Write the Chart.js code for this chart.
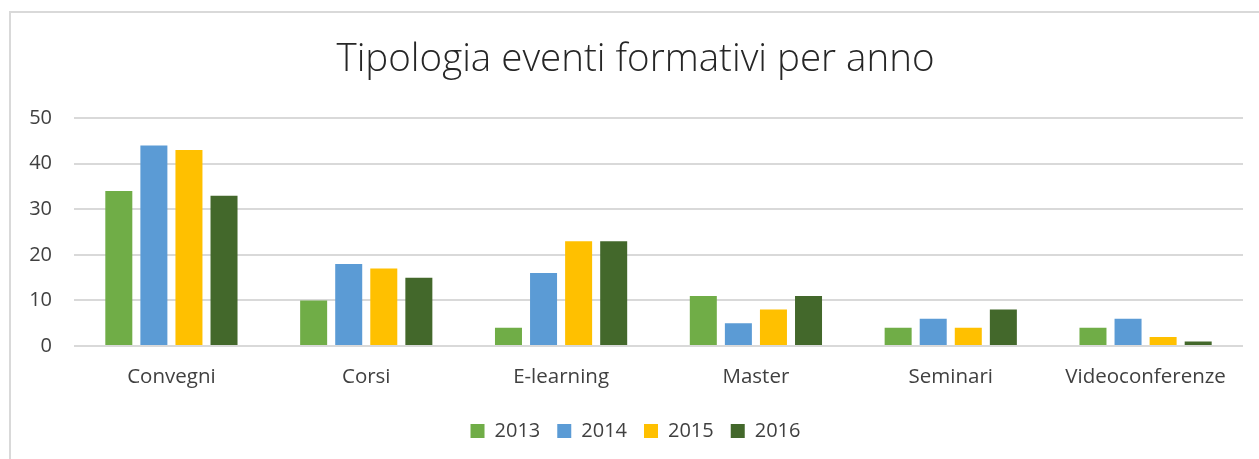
<!DOCTYPE html>
<html>
<head>
<meta charset="utf-8">
<script src="https://cdn.jsdelivr.net/npm/chart.js@4.4.1/dist/chart.umd.min.js"></script>
<style>
	body { margin: 0; background: #fff; }
	#wrap { position: relative; width: 1259px; height: 459px; }
	#frame { position: absolute; left: 9px; top: 11px; right: 0; bottom: 0; border-left: 2px solid #d9d9d9; border-top: 2px solid #d9d9d9; pointer-events: none; }
	canvas { position: absolute; left: 0; top: 0; }
</style>
</head>
<body>
<div id="wrap">
	<canvas id="chart" width="1259" height="459"></canvas>
	<div id="frame"></div>
</div>
<script>
const categories = ['Convegni', 'Corsi', 'E-learning', 'Master', 'Seminari', 'Videoconferenze'];
const years = ['2013', '2014', '2015', '2016'];
const values2013 = [34, 10, 4, 11, 4, 4];
const values2014 = [44, 18, 16, 5, 6, 6];
const values2015 = [43, 17, 23, 8, 4, 2];
const values2016 = [33, 15, 23, 11, 8, 1];
const yTicks = [0, 10, 20, 30, 40, 50];

const colors = ['#70AD47', '#5B9BD5', '#FFC000', '#43682B'];
const series = [values2013, values2014, values2015, values2016];

const fontFamily = '"Open Sans", sans-serif';

new Chart(document.getElementById('chart'), {
	type: 'bar',
	data: {
		labels: categories,
		datasets: years.map((year, i) => ({
			label: year,
			data: series[i],
			backgroundColor: colors[i],
			categoryPercentage: 0.72,
			barPercentage: 0.77
		}))
	},
	options: {
		responsive: false,
		animation: false,
		layout: { padding: { left: 28, right: 16, top: 0, bottom: 8 } },
		plugins: {
			title: {
				display: true,
				text: 'Tipologia eventi formativi per anno',
				color: '#262626',
				font: { family: fontFamily, size: 38.5, weight: '300' },
				padding: { top: 37, bottom: 35 }
			},
			legend: {
				position: 'bottom',
				labels: {
					boxWidth: 14,
					boxHeight: 14,
					padding: 17,
					color: '#404040',
					font: { family: fontFamily, size: 20 }
				}
			},
			tooltip: { enabled: false }
		},
		scales: {
			x: {
				afterFit: axis => { axis.height = 58; },
				grid: { display: false, drawTicks: false },
				border: { display: false },
				ticks: { color: '#404040', padding: 19, font: { family: fontFamily, size: 20.5 } }
			},
			y: {
				min: 0,
				max: 50,
				afterBuildTicks: axis => { axis.ticks = yTicks.map(v => ({ value: v })); },
				afterFit: axis => { axis.width = 46; },
				grid: { color: '#d9d9d9', lineWidth: 2, drawTicks: false },
				border: { display: false },
				ticks: { color: '#404040', padding: 22, font: { family: fontFamily, size: 20 } }
			}
		}
	}
});
</script>
</body>
</html>
